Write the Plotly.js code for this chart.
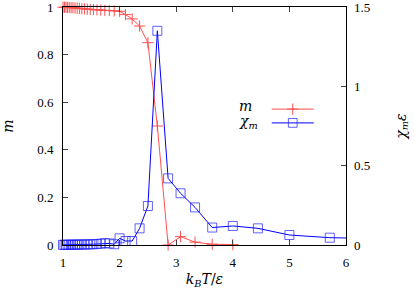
<!DOCTYPE html>
<html>
<head>
<meta charset="utf-8">
<script src="https://cdn.plot.ly/plotly-3.0.1.min.js"></script>
<style>html,body{margin:0;padding:0;background:#fff;}#chart{width:415px;height:293px;}</style>
</head>
<body>
<div id="chart"></div>
<script>
// Temperatures k_B T / epsilon
const temperatureM = [1.0, 1.026, 1.053, 1.081, 1.111, 1.143, 1.176, 1.212, 1.25, 1.29, 1.333, 1.379, 1.429, 1.481, 1.538, 1.6, 1.667, 1.739, 1.818, 1.905, 2.0, 2.105, 2.222, 2.353, 2.5, 2.667, 2.857, 3.077, 3.333, 3.636, 4.0];
const magnetization = [0.999, 0.999, 0.999, 0.998, 0.998, 0.997, 0.997, 0.996, 0.995, 0.994, 0.993, 0.992, 0.991, 0.990, 0.989, 0.988, 0.987, 0.986, 0.985, 0.984, 0.982, 0.968, 0.95, 0.92, 0.85, 0.50, 0.0, 0.035, 0.012, 0.003, 0.002];

const temperatureChi = [1.0, 1.026, 1.053, 1.081, 1.111, 1.143, 1.176, 1.212, 1.25, 1.29, 1.333, 1.379, 1.429, 1.481, 1.538, 1.6, 1.667, 1.739, 1.818, 1.905, 2.0, 2.105, 2.222, 2.353, 2.5, 2.667, 2.857, 3.077, 3.333, 3.636, 4.0, 4.444, 5.0, 5.714, 6.667];
const susceptibility = [0.001, 0.001, 0.001, 0.001, 0.001, 0.002, 0.002, 0.002, 0.002, 0.003, 0.003, 0.003, 0.004, 0.004, 0.005, 0.006, 0.008, 0.012, 0.010, 0.005, 0.042, 0.025, 0.025, 0.105, 0.246, 1.35, 0.42, 0.326, 0.237, 0.11, 0.12, 0.105, 0.063, 0.046, 0.04];

const xTicks = [1, 2, 3, 4, 5, 6];
const yTicks = [0, 0.2, 0.4, 0.6, 0.8, 1];
const yTickLabels = ['0', '0.2', '0.4', '0.6', '0.8', '1'];
const y2Ticks = [0, 0.5, 1, 1.5];
const y2TickLabels = ['0', '0.5', '1', '1.5'];
const seriesLabels = ['<i>m</i>', '<i>χ<sub>m</sub></i>'];

const serif = 'Liberation Serif';
const mathFont = 'DejaVu Serif';
const xMax = 6;

const traces = [
  {
    x: temperatureM, y: magnetization, name: ' ', type: 'scatter', mode: 'lines+markers',
    line: {color: 'rgb(255,80,80)', width: 1},
    marker: {symbol: 'cross-thin', size: 8, line: {color: 'rgb(255,80,80)', width: 1}},
    cliponaxis: false, yaxis: 'y', legend: 'legend'
  },
  {
    x: temperatureChi, y: susceptibility, name: ' ', type: 'scatter', mode: 'lines+markers',
    line: {color: '#0000ff', width: 1},
    marker: {symbol: 'square-open', size: temperatureChi.map(t => t > xMax ? 0 : 9), color: '#2020ff', line: {color: '#2020ff', width: 1}},
    cliponaxis: false, yaxis: 'y2', legend: 'legend2'
  }
];

const legendCommon = {xanchor: 'left', yanchor: 'middle', bgcolor: 'rgba(0,0,0,0)',
  font: {family: serif, size: 8}, itemwidth: 42, borderwidth: 0};

const layout = {
  width: 415, height: 293,
  margin: {l: 63, r: 69, t: 7, b: 48},
  paper_bgcolor: '#fff', plot_bgcolor: '#fff',
  font: {family: serif, size: 13, color: '#000'},
  showlegend: true,
  legend: Object.assign({x: 0.72, y: 0.571}, legendCommon),
  legend2: Object.assign({x: 0.72, y: 0.513}, legendCommon),
  xaxis: {
    range: [1, 6], tickvals: xTicks, ticktext: xTicks.map(String), tickfont: {family: serif, size: 13},
    ticks: 'inside', ticklen: 5, tickcolor: '#444', showline: true, linecolor: '#000', linewidth: 1,
    mirror: 'ticks', showgrid: false, zeroline: false, ticklabelstandoff: 5, ticklabeloverflow: 'allow',
    title: {text: '<i>k<sub>B</sub>T</i>/<i>ε</i>', font: {family: mathFont, size: 14}, standoff: 5}
  },
  yaxis: {
    range: [0, 1], tickvals: yTicks, ticktext: yTickLabels, tickfont: {family: serif, size: 13},
    ticks: 'inside', ticklen: 5, tickcolor: '#444', showline: true, linecolor: '#000', linewidth: 1,
    mirror: true, showgrid: false, zeroline: false, ticklabelstandoff: 6, ticklabeloverflow: 'allow',
    title: {text: '<i>m</i>', font: {family: mathFont, size: 14}, standoff: 20}
  },
  yaxis2: {
    range: [0, 1.5], tickvals: y2Ticks, ticktext: y2TickLabels, overlaying: 'y', side: 'right', tickfont: {family: serif, size: 13},
    ticks: 'inside', ticklen: 5, tickcolor: '#444', showline: false,
    showgrid: false, zeroline: false, ticklabelstandoff: 7, ticklabeloverflow: 'allow',
    title: {text: '<i>χ<sub>m</sub>ε</i>', font: {family: mathFont, size: 14}, standoff: 26}
  },
  annotations: [
    {xref: 'paper', yref: 'paper', x: 0.675, y: 0.584, xanchor: 'right', yanchor: 'middle', showarrow: false,
     text: seriesLabels[0], font: {family: mathFont, size: 14}},
    {xref: 'paper', yref: 'paper', x: 0.697, y: 0.517, xanchor: 'right', yanchor: 'middle', showarrow: false,
     text: seriesLabels[1], font: {family: mathFont, size: 14}}
  ]
};

Plotly.newPlot('chart', traces, layout, {displayModeBar: false, staticPlot: true});
</script>
</body>
</html>
